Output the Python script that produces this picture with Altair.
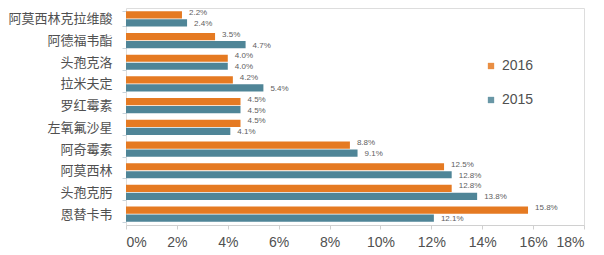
import altair as alt
import pandas as pd

categories = ["阿莫西林克拉维酸", "阿德福韦酯", "头孢克洛", "拉米夫定", "罗红霉素",
              "左氧氟沙星", "阿奇霉素", "阿莫西林", "头孢克肟", "恩替卡韦"]
v2016 = [2.2, 3.5, 4.0, 4.2, 4.5, 4.5, 8.8, 12.5, 12.8, 15.8]
v2015 = [2.4, 4.7, 4.0, 5.4, 4.5, 4.1, 9.1, 12.8, 13.8, 12.1]
years = ["2016", "2015"]
colors = ["#E57A22", "#4F8597"]

rows = []
for c, a, b in zip(categories, v2016, v2015):
    rows.append({"cat": c, "year": "2016", "v": a, "lab": f"{a:.1f}%"})
    rows.append({"cat": c, "year": "2015", "v": b, "lab": f"{b:.1f}%"})
df = pd.DataFrame(rows)

FONT = "Noto Sans CJK SC"
NUM = "Liberation Sans"

y = alt.Y("cat:N", sort=categories, title=None,
          scale=alt.Scale(paddingInner=0.3, paddingOuter=0.15),
          axis=alt.Axis(labelFontSize=13, labelColor="#505050", labelFont=FONT,
                        labelFontWeight="normal",
                        domain=False, ticks=True, tickBand="extent",
                        tickColor="#C8D4DC", tickSize=4, labelPadding=10))
yoff = alt.YOffset("year:N", sort=years, scale=alt.Scale(paddingInner=0.1))
x = alt.X("v:Q", title=None,
          scale=alt.Scale(domain=[0, 18], nice=False),
          axis=alt.Axis(values=list(range(0, 19, 2)), labelExpr="datum.value + '%'",
                        labelFontSize=14, labelColor="#505050", labelFont=NUM,
                        grid=False, domainColor="#D0D0D0", tickColor="#D0D0D0",
                        tickSize=4, labelPadding=6))

base = alt.Chart(df)
bars = base.mark_bar().encode(
    y=y, yOffset=yoff, x=x,
    color=alt.Color("year:N", sort=years,
                    scale=alt.Scale(domain=years, range=colors),
                    legend=alt.Legend(title=None, orient="none", legendX=358, legendY=51,
                                      symbolType="square", symbolSize=40,
                                      labelFontSize=14, labelColor="#505050",
                                      labelFont=NUM, rowPadding=20,
                                      symbolOpacity=0.85)),
)
t16 = base.transform_filter("datum.year == '2016'").mark_text(
    align="left", dx=7, dy=-2, fontSize=8, color="#606060", font=NUM
).encode(y=y, yOffset=yoff, x=x, text="lab:N")
t15 = base.transform_filter("datum.year == '2015'").mark_text(
    align="left", dx=7, dy=1, fontSize=8, color="#606060", font=NUM
).encode(y=y, yOffset=yoff, x=x, text="lab:N")

chart = alt.layer(bars, t16, t15).properties(
    width=458, height=217,
    autosize=alt.AutoSizeParams(type="none"),
    padding={"left": 126, "top": 8, "right": 20, "bottom": 30},
).configure_view(stroke=None).configure(background="white")

chart.save("out.html", embed_options={"renderer": "svg", "actions": False})
